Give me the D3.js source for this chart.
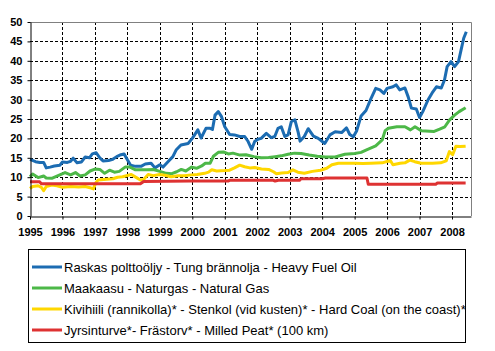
<!DOCTYPE html>
<html>
<head>
<meta charset="utf-8">
<script src="https://cdn.jsdelivr.net/npm/d3@7"></script>
<style>
  html, body { margin: 0; padding: 0; background: #fff; }
  svg { display: block; }
  text { font-family: Arial, "Liberation Sans", sans-serif; }
</style>
</head>
<body>
<svg id="chart" width="495" height="351"></svg>
<script>
// ---- DATA (x = decimal year, y = value) ----
const years = [1995,1996,1997,1998,1999,2000,2001,2002,2003,2004,2005,2006,2007,2008];
const yTicks = [0,5,10,15,20,25,30,35,40,45,50];

const seriesNames = [
  "Raskas polttoöljy - Tung brännolja - Heavy Fuel Oil",
  "Maakaasu - Naturgas - Natural Gas",
  "Kivihiili (rannikolla)* - Stenkol (vid kusten)* - Hard Coal (on the coast)*",
  "Jyrsinturve*- Frästorv* - Milled Peat* (100 km)"
];
const seriesColors = ["#1c6cb2", "#4db848", "#ffd700", "#de3232"];

const heavyFuelOil = [
  [1995.00,14.6],[1995.17,14.0],[1995.30,13.8],[1995.42,13.8],[1995.50,12.4],[1995.62,12.6],
  [1995.75,12.9],[1995.92,13.1],[1996.00,13.9],[1996.15,13.8],[1996.25,14.1],[1996.33,14.9],
  [1996.45,13.7],[1996.58,13.9],[1996.70,15.2],[1996.83,15.0],[1996.92,16.0],[1997.04,16.3],
  [1997.15,15.0],[1997.25,14.2],[1997.42,14.3],[1997.55,14.6],[1997.67,15.3],[1997.80,15.8],
  [1997.90,16.0],[1998.00,14.5],[1998.10,13.1],[1998.25,12.8],[1998.42,12.8],[1998.55,13.4],
  [1998.73,13.6],[1998.85,12.4],[1999.00,13.2],[1999.10,12.6],[1999.25,14.0],[1999.40,15.3],
  [1999.50,17.0],[1999.65,18.3],[1999.87,18.7],[2000.00,20.0],[2000.17,22.2],[2000.27,20.1],
  [2000.42,22.6],[2000.55,22.6],[2000.62,22.3],[2000.70,26.0],[2000.80,26.9],[2000.90,25.6],
  [2001.00,23.0],[2001.15,21.0],[2001.30,20.9],[2001.46,20.5],[2001.61,20.5],[2001.72,19.2],
  [2001.83,17.2],[2001.92,19.2],[2002.02,19.8],[2002.12,20.0],[2002.28,21.3],[2002.43,20.2],
  [2002.54,20.5],[2002.64,22.6],[2002.74,23.0],[2002.85,20.5],[2002.95,20.9],[2003.05,24.3],
  [2003.16,24.8],[2003.26,21.6],[2003.32,19.3],[2003.45,20.5],[2003.57,22.5],[2003.73,20.6],
  [2003.88,20.0],[2004.08,18.7],[2004.24,20.9],[2004.40,21.7],[2004.60,21.5],[2004.75,22.7],
  [2004.85,21.0],[2004.96,20.4],[2005.06,21.9],[2005.20,25.8],[2005.35,27.2],[2005.50,30.2],
  [2005.65,32.9],[2005.78,32.5],[2005.90,31.6],[2006.00,32.9],[2006.18,33.3],[2006.28,33.8],
  [2006.39,32.5],[2006.55,33.0],[2006.65,30.7],[2006.75,27.8],[2006.90,27.6],[2007.00,25.4],
  [2007.10,26.9],[2007.26,29.9],[2007.41,32.0],[2007.52,33.3],[2007.67,33.0],[2007.77,35.1],
  [2007.85,38.5],[2007.97,39.8],[2008.08,38.5],[2008.20,39.8],[2008.28,42.8],[2008.36,45.8],
  [2008.44,47.5]
];

const naturalGas = [
  [1995.00,10.1],[1995.08,10.8],[1995.25,9.9],[1995.42,10.3],[1995.50,9.8],[1995.67,9.7],
  [1995.83,10.3],[1996.08,11.2],[1996.25,10.6],[1996.40,11.2],[1996.54,10.3],[1996.70,10.6],
  [1996.85,11.6],[1997.00,12.1],[1997.15,12.0],[1997.30,11.0],[1997.45,11.8],[1997.60,11.3],
  [1997.75,11.5],[1997.93,12.6],[1998.08,12.6],[1998.25,11.9],[1998.40,11.9],[1998.60,11.9],
  [1998.80,12.0],[1999.00,11.5],[1999.20,11.0],[1999.37,10.9],[1999.52,11.4],[1999.66,12.0],
  [1999.80,11.6],[1999.98,12.6],[2000.13,12.3],[2000.29,12.9],[2000.40,13.6],[2000.55,13.6],
  [2000.65,15.4],[2000.80,16.4],[2000.96,16.5],[2001.11,16.0],[2001.25,16.2],[2001.47,15.7],
  [2001.65,15.8],[2001.90,15.3],[2002.12,15.0],[2002.35,15.1],[2002.55,15.3],[2002.74,15.5],
  [2002.95,15.9],[2003.15,16.2],[2003.35,16.1],[2003.60,15.7],[2003.85,15.4],[2004.10,15.2],
  [2004.40,15.2],[2004.70,15.9],[2005.00,16.1],[2005.20,16.4],[2005.35,17.0],[2005.65,18.1],
  [2005.85,19.6],[2005.94,22.0],[2006.04,22.6],[2006.30,23.0],[2006.55,23.0],[2006.72,22.2],
  [2006.86,23.0],[2007.05,22.0],[2007.45,21.8],[2007.62,22.4],[2007.78,23.0],[2007.92,24.7],
  [2008.08,26.0],[2008.22,26.9],[2008.42,27.9]
];

const hardCoal = [
  [1995.00,7.1],[1995.08,7.6],[1995.25,7.8],[1995.35,7.4],[1995.42,6.5],[1995.50,7.6],
  [1995.67,8.0],[1995.83,7.8],[1996.00,7.4],[1996.25,7.6],[1996.50,7.5],[1996.70,7.6],
  [1996.85,7.3],[1996.95,7.0],[1997.03,8.6],[1997.10,9.3],[1997.36,9.5],[1997.55,9.6],
  [1997.70,10.0],[1997.85,10.1],[1998.03,10.5],[1998.12,10.7],[1998.28,9.9],[1998.40,9.3],
  [1998.50,9.4],[1998.64,10.7],[1998.80,10.4],[1998.99,10.7],[1999.15,10.5],[1999.35,10.1],
  [1999.56,10.4],[1999.75,10.4],[1999.97,10.6],[2000.15,10.7],[2000.38,11.0],[2000.50,11.3],
  [2000.60,11.9],[2000.75,11.6],[2001.00,11.7],[2001.15,11.8],[2001.30,12.4],[2001.46,13.1],
  [2001.61,12.7],[2001.77,12.4],[2001.92,12.5],[2002.13,12.1],[2002.35,12.0],[2002.50,11.4],
  [2002.59,10.9],[2002.75,11.1],[2002.95,11.2],[2003.10,11.9],[2003.25,11.3],[2003.45,11.0],
  [2003.70,11.5],[2003.95,11.8],[2004.14,12.3],[2004.30,13.2],[2004.50,13.6],[2004.70,13.6],
  [2005.00,13.6],[2005.25,13.5],[2005.50,13.6],[2005.85,13.7],[2006.10,14.3],[2006.18,13.2],
  [2006.40,13.6],[2006.55,13.7],[2006.70,14.4],[2006.85,14.0],[2007.05,13.6],[2007.40,13.6],
  [2007.65,13.7],[2007.82,14.2],[2007.92,16.6],[2008.02,15.8],[2008.12,18.0],[2008.25,17.9],
  [2008.42,18.0]
];

const milledPeat = [
  [1995.00,8.8],[1995.30,8.8],[1995.35,8.3],[1998.40,8.3],[1998.50,8.9],[1999.95,9.0],
  [2001.10,9.0],[2001.15,9.2],[2002.50,9.2],[2002.55,9.0],[2002.65,9.2],[2003.30,9.2],
  [2003.35,9.6],[2004.00,9.6],[2004.10,9.8],[2005.38,9.8],[2005.42,8.2],[2007.50,8.2],
  [2007.55,8.5],[2008.42,8.5]
];

const allSeries = [heavyFuelOil, naturalGas, hardCoal, milledPeat];

// ---- LAYOUT ----
const plot = { left: 30, right: 471, top: 22, bottom: 216 };
const svg = d3.select("#chart");

const x = d3.scaleLinear().domain([1995, 2008.585]).range([plot.left, plot.right]);
const y = d3.scaleLinear().domain([0, 50]).range([plot.bottom, plot.top]);

// gridlines
const grid = svg.append("g");
grid.selectAll("line.h").data(yTicks.filter(v => v > 0 && v < 50)).join("line")
  .attr("x1", plot.left).attr("x2", plot.right)
  .attr("y1", d => Math.round(y(d)) + 0.5).attr("y2", d => Math.round(y(d)) + 0.5)
  .attr("stroke", "#000").attr("stroke-width", 1).attr("stroke-dasharray", "3,2");
grid.selectAll("line.v").data(years.filter(v => v > 1995)).join("line")
  .attr("x1", d => Math.round(x(d)) + 0.5).attr("x2", d => Math.round(x(d)) + 0.5)
  .attr("y1", plot.top).attr("y2", plot.bottom)
  .attr("stroke", "#000").attr("stroke-width", 1).attr("stroke-dasharray", "3,2");

// plot border (top/right gray)
svg.append("path")
  .attr("d", `M${plot.left},${plot.top + 0.5}H${plot.right + 0.5}V${plot.bottom}`)
  .attr("fill", "none").attr("stroke", "#808080").attr("stroke-width", 1);

// lines
const line = d3.line().x(d => x(d[0])).y(d => y(d[1]));
svg.append("g").selectAll("path").data(allSeries).join("path")
  .attr("d", line)
  .attr("fill", "none")
  .attr("stroke", (d, i) => seriesColors[i])
  .attr("stroke-width", 3)
  .attr("stroke-linejoin", "round");

// axes
const yAxis = svg.append("g")
  .attr("transform", `translate(${plot.left + 0.5},0)`)
  .call(d3.axisLeft(y).tickValues(yTicks).tickSize(3).tickPadding(5).tickSizeOuter(0));
const xAxis = svg.append("g")
  .attr("transform", `translate(0,${plot.bottom + 0.5})`)
  .call(d3.axisBottom(x).tickValues(years).tickFormat(d3.format("d")).tickSize(3).tickPadding(9).tickSizeOuter(0));
[yAxis, xAxis].forEach(a => {
  a.select(".domain").attr("stroke", "#000");
  a.selectAll(".tick line").attr("stroke", "#000");
  a.selectAll("text").attr("fill", "#000").style("font-size", "11px").style("font-weight", "bold")
    .style("font-family", "Arial, 'Liberation Sans', sans-serif");
});

// legend
const legend = svg.append("g");
legend.append("rect")
  .attr("x", 28.5).attr("y", 249.5).attr("width", 437).attr("height", 93)
  .attr("fill", "#fff").attr("stroke", "#000").attr("stroke-width", 1);
const rowY = [267, 288, 309, 330];
const items = legend.selectAll("g.item").data(seriesNames).join("g")
  .attr("transform", (d, i) => `translate(0,${rowY[i]})`);
items.append("line")
  .attr("x1", 32).attr("x2", 62).attr("y1", 0).attr("y2", 0)
  .attr("stroke", (d, i) => seriesColors[i]).attr("stroke-width", 3);
items.append("text")
  .attr("x", 64).attr("y", 0).attr("dy", "0.36em")
  .style("font-size", "13px").attr("fill", "#000")
  .text(d => d);
</script>
</body>
</html>
